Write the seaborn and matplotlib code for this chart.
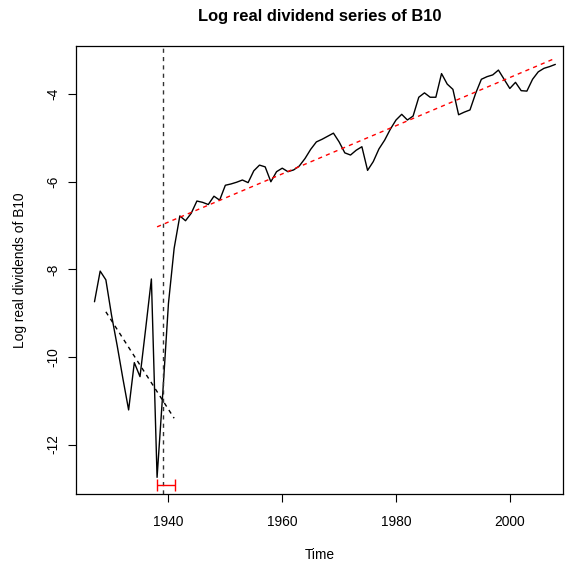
import matplotlib
matplotlib.use("Agg")
import matplotlib.pyplot as plt
import seaborn as sns
import pandas as pd
import numpy as np

years = list(range(1927, 2009))
log_div = [-8.74, -8.04, -8.24, -9.05, -9.75, -10.50, -11.21, -10.13, -10.45, -9.35,
           -8.22, -12.75, -10.83, -8.78, -7.52, -6.78, -6.89, -6.72, -6.44, -6.47,
           -6.52, -6.33, -6.42, -6.08, -6.05, -6.01, -5.96, -6.02, -5.75, -5.62,
           -5.66, -6.00, -5.77, -5.69, -5.77, -5.73, -5.64, -5.47, -5.26, -5.09,
           -5.03, -4.96, -4.89, -5.09, -5.34, -5.39, -5.28, -5.20, -5.74, -5.54,
           -5.25, -5.05, -4.80, -4.59, -4.46, -4.59, -4.50, -4.07, -3.97, -4.07,
           -4.07, -3.53, -3.77, -3.89, -4.47, -4.41, -4.36, -3.98, -3.66, -3.60,
           -3.56, -3.45, -3.66, -3.87, -3.73, -3.92, -3.93, -3.66, -3.49, -3.41,
           -3.37, -3.32]

trend1_x = [1929, 1941]
trend1_y = [-8.97, -11.40]
trend2_x = [1938, 2008]
trend2_y = [-7.03, -3.18]
break_year = 1939.1
ci_low, ci_high = 1937.9, 1941.1
ci_y = -12.93

xticks = [1940, 1960, 1980, 2000]
yticks = [-12, -10, -8, -6, -4]

sns.set_theme(style="ticks")
plt.rcParams['font.family'] = ['Liberation Sans', 'DejaVu Sans']
plt.rcParams.update({"text.color": "black", "axes.labelcolor": "black",
                     "xtick.color": "black", "ytick.color": "black",
                     "axes.edgecolor": "black"})

fig = plt.figure(figsize=(5.70, 5.69), dpi=100)
ax = fig.add_axes([76/570, 1-494/569, (563-76)/570, (494-46)/569])

df = pd.DataFrame({"Time": years, "val": log_div})
sns.lineplot(data=df, x="Time", y="val", ax=ax, color="black", linewidth=1.0)
sns.lineplot(x=trend1_x, y=trend1_y, ax=ax, color="black", linewidth=1.0,
             linestyle=(0, (3, 3)))
sns.lineplot(x=trend2_x, y=trend2_y, ax=ax, color="red", linewidth=1.0,
             linestyle=(0, (3, 3)))
ax.axvline(break_year, color="#333333", linewidth=1.0, linestyle=(0, (3, 3)))
ax.errorbar([(ci_low + ci_high) / 2], [ci_y], xerr=[[(ci_high - ci_low) / 2], [(ci_high - ci_low) / 2]],
            fmt="none", ecolor="red", elinewidth=1.0, capsize=4, capthick=1.0)

ax.set_xlim(1923.75, 2009.35)
ax.set_ylim(-13.13, -2.90)
ax.set_xticks(xticks)
ax.set_yticks(yticks)
ax.set_xticklabels([str(t) for t in xticks], fontsize=9.9, color="black")
ax.set_yticklabels([str(t) for t in yticks], fontsize=9.9, color="black",
                   rotation=90, va="center")
ax.tick_params(axis="both", length=6, width=0.8, color="black")
ax.tick_params(axis="x", pad=9)
ax.tick_params(axis="y", pad=5.5)
for s in ax.spines.values():
    s.set_visible(True)
    s.set_color("black")
    s.set_linewidth(0.9)
ax.set_xlabel("Time", fontsize=9.9, labelpad=14, color="black")
ax.set_ylabel("Log real dividends of B10", fontsize=9.9, labelpad=14, color="black")
ax.set_title("Log real dividend series of B10", fontsize=11.9, fontweight="bold",
             pad=18, color="black")

fig.savefig("out.png", dpi=100, facecolor="white")
